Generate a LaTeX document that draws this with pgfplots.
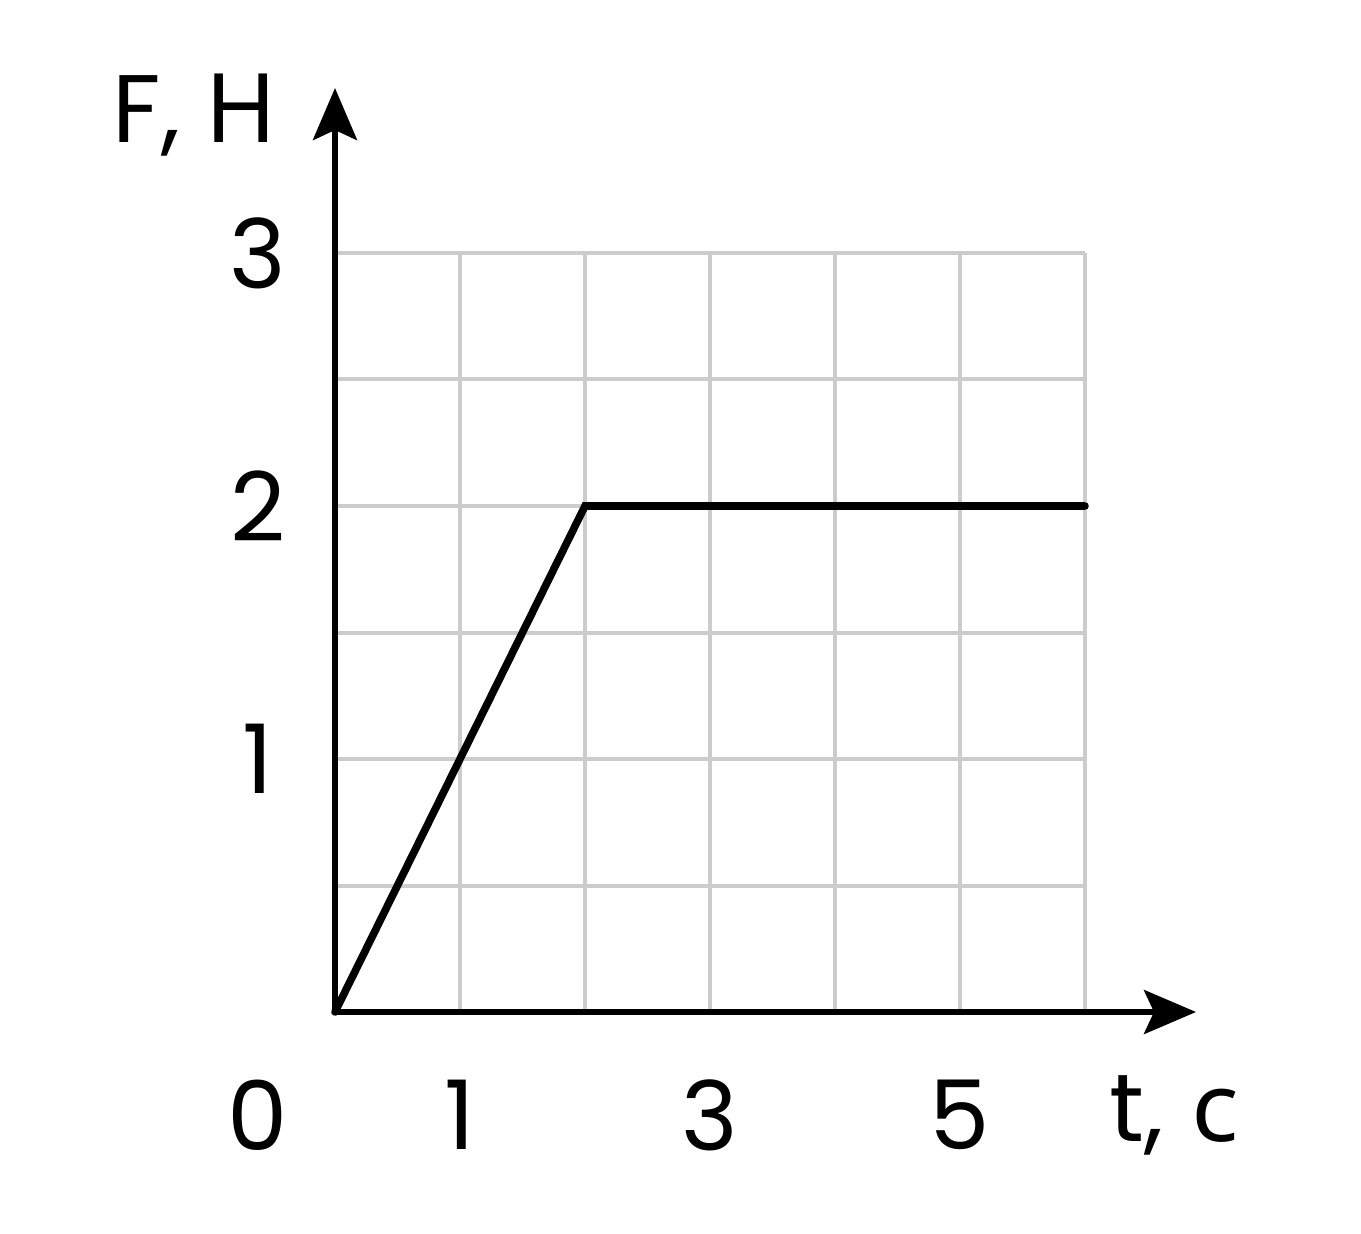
\documentclass[border=0pt]{standalone}
\usepackage{fontspec}
\setmainfont{Poppins}
\newfontfamily\cyr{Noto Sans}
\usepackage{pgfplots}
\pgfplotsset{compat=1.18}
\usetikzlibrary{arrows.meta}
\definecolor{gridgray}{HTML}{CCCCCC}

\begin{document}
\begin{tikzpicture}
% fix the page to the reference size (1 px = 0.25 pt), origin of the axes at (0,0)
\path[use as bounding box] (-83.75pt,-55.25pt) rectangle (256.5pt,253pt);
\begin{axis}[
    at={(0,0)}, anchor=origin,
    x=31.25pt, y=63.25pt,
    xmin=0, xmax=6, ymin=0, ymax=3,
    axis line style={draw=none},
    major tick length=0pt,
    xtick={0,1,2,3,4,5,6},
    xticklabels={,1,,3,,5,},
    ytick={0,0.5,1,1.5,2,2.5,3},
    yticklabels={,,1,,2,,3},
    grid=major,
    grid style={line width=1pt, color=gridgray},
    clip=false,
    /pgf/number format/assume math mode=true,
    every tick label/.append style={font=\fontsize{24}{28}\selectfont, anchor=center},
    every x tick label/.append style={yshift=-25.75pt},
    every y tick label/.append style={xshift=-19.25pt},
]
\draw[line width=1.4pt, -{Stealth[length=13pt, width=11pt, inset=2.5pt]}]
    (axis cs:0,0) -- (axis cs:6.888,0);
\draw[line width=1.4pt, -{Stealth[length=13pt, width=11pt, inset=2.5pt]}]
    (axis cs:0,0) -- (axis cs:0,3.652);
\addplot[black, line width=1.9pt, line cap=round, mark=none]
    coordinates {(0,0) (2,2) (6,2)};
\node[font=\fontsize{24}{28}\selectfont] at ([shift={(-19.25pt,-25.75pt)}]axis cs:0,0) {0};
\node[font=\fontsize{24}{28}\selectfont] at ([shift={(210pt,-25.75pt)}]axis cs:0,0) {t,\hspace{0.3em}{\cyr с}};
\node[font=\fontsize{24}{28}\selectfont] at ([shift={(-35pt,224.25pt)}]axis cs:0,0) {F, {\cyr Н}};
\end{axis}
\end{tikzpicture}
\end{document}
